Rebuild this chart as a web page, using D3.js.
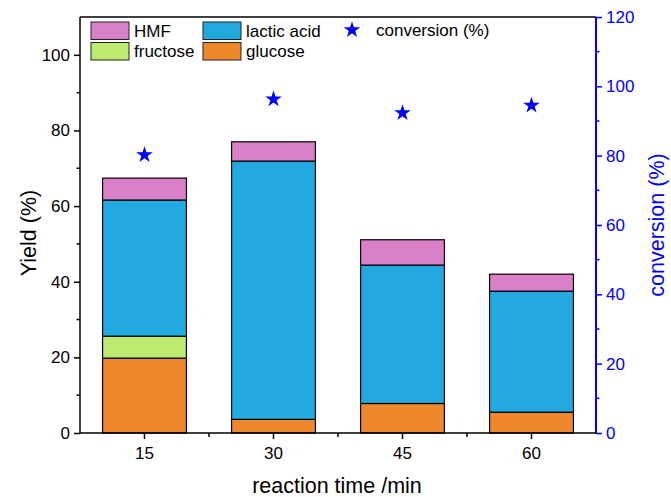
<!DOCTYPE html>
<html>
<head>
<meta charset="utf-8">
<script src="https://cdn.jsdelivr.net/npm/d3@7"></script>
<style>
  body { margin: 0; background: #fff; }
  svg { display: block; font-family: "Liberation Sans", Arial, sans-serif; }
</style>
</head>
<body>
<svg id="chart" width="671" height="497"></svg>
<script>
const categories = ["15", "30", "45", "60"];
const glucose    = [19.8, 3.6, 7.8, 5.5];
const fructose   = [5.8, 0, 0, 0];
const lacticAcid = [36.0, 68.3, 36.6, 32.0];
const hmf        = [5.8, 5.1, 6.7, 4.5];
const conversion = [80.2, 96.3, 92.3, 94.5];
const yieldTicks = [0, 20, 40, 60, 80, 100];
const convTicks  = [0, 20, 40, 60, 80, 100, 120];

const seriesKeys = ["glucose", "fructose", "lactic", "hmf"];
const colors = { glucose: "#EF882D", fructose: "#BCEB6F", lactic: "#22A9E0", hmf: "#DA80C8" };
const rows = categories.map((c, i) => ({
  cat: c, glucose: glucose[i], fructose: fructose[i], lactic: lacticAcid[i], hmf: hmf[i]
}));

const svg = d3.select("#chart");
const L = 80, R = 596, T = 17, B = 433;
const FONT = "Liberation Sans, Arial, sans-serif";

const x = d3.scaleBand().domain(categories).range([L, R]).paddingInner(0.35).paddingOuter(0.175);
const y = d3.scaleLinear().domain([0, 110]).range([B, T]);
const y2 = d3.scaleLinear().domain([0, 120]).range([B, T]);

// bars
const stacked = d3.stack().keys(seriesKeys)(rows);
svg.append("g").selectAll("g").data(stacked).join("g")
  .attr("fill", d => colors[d.key])
  .selectAll("rect").data(d => d.filter(p => p[1] - p[0] > 0)).join("rect")
  .attr("x", d => x(d.data.cat))
  .attr("width", x.bandwidth())
  .attr("y", d => y(d[1]))
  .attr("height", d => y(d[0]) - y(d[1]))
  .attr("stroke", "#000").attr("stroke-width", 1.2);

// stars
const star = d3.symbol().type(d3.symbolStar).size(85);
svg.append("g").selectAll("path").data(conversion).join("path")
  .attr("d", star)
  .attr("transform", (d, i) => `translate(${x(categories[i]) + x.bandwidth() / 2},${y2(d)})`)
  .attr("fill", "#0000FF");

// frame top
svg.append("line").attr("x1", L).attr("x2", R).attr("y1", T).attr("y2", T)
  .attr("stroke", "#000").attr("stroke-width", 1.5);

// left axis
const yAx = d3.axisLeft(y).tickValues(yieldTicks).tickSize(6).tickPadding(4);
const gl = svg.append("g").attr("transform", `translate(${L},0)`).call(yAx);
gl.select(".domain").attr("d", `M0,${B}V${T}`).attr("stroke-width", 1.5);
gl.selectAll(".tick line").attr("stroke-width", 1.5);
gl.selectAll("text").attr("font-size", 17).attr("fill", "#000").attr("font-family", FONT);
gl.append("g").selectAll("line").data(d3.range(10, 110, 20)).join("line")
  .attr("x1", 0).attr("x2", -3.5).attr("y1", d => y(d)).attr("y2", d => y(d))
  .attr("stroke", "#000").attr("stroke-width", 1.5);

// right axis
const y2Ax = d3.axisRight(y2).tickValues(convTicks).tickSize(6).tickPadding(4);
const gr = svg.append("g").attr("transform", `translate(${R},0)`).call(y2Ax);
gr.select(".domain").attr("d", `M0,${B}V${T}`).attr("stroke", "#0000FF").attr("stroke-width", 2);
gr.selectAll(".tick line").attr("stroke", "#0000FF").attr("stroke-width", 1.5);
gr.selectAll("text").attr("font-size", 17).attr("fill", "#0000FF").attr("font-family", FONT);
gr.append("g").selectAll("line").data(d3.range(10, 120, 20)).join("line")
  .attr("x1", 0).attr("x2", 3.5).attr("y1", d => y2(d)).attr("y2", d => y2(d))
  .attr("stroke", "#0000FF").attr("stroke-width", 1.5);

// bottom axis
const xAx = d3.axisBottom(x).tickSize(6).tickPadding(8);
const gb = svg.append("g").attr("transform", `translate(0,${B})`).call(xAx);
gb.select(".domain").attr("d", `M${L},0H${R}`).attr("stroke-width", 1.5);
gb.selectAll(".tick line").attr("stroke-width", 1.5);
gb.selectAll("text").attr("font-size", 17).attr("fill", "#000").attr("font-family", FONT);
const centers = categories.map(c => x(c) + x.bandwidth() / 2);
const minors = centers.slice(1).map((c, i) => (c + centers[i]) / 2);
gb.append("g").selectAll("line").data(minors).join("line")
  .attr("x1", d => d).attr("x2", d => d).attr("y1", 0).attr("y2", 4)
  .attr("stroke", "#000").attr("stroke-width", 1.5);

// axis titles
svg.append("text").attr("x", 337).attr("y", 493).attr("text-anchor", "middle")
  .attr("font-size", 21.5).attr("fill", "#000").text("reaction time /min");
svg.append("text").attr("transform", `translate(36,${(T + B) / 2 + 8}) rotate(-90)`)
  .attr("text-anchor", "middle").attr("font-size", 21.5).attr("fill", "#000").text("Yield (%)");
svg.append("text").attr("transform", `translate(664,${(T + B) / 2}) rotate(-90)`)
  .attr("text-anchor", "middle").attr("font-size", 21.5).attr("fill", "#0000FF").text("conversion (%)");

// legend
const legendItems = [
  { label: "HMF", key: "hmf", col: 0, row: 0 },
  { label: "fructose", key: "fructose", col: 0, row: 1 },
  { label: "lactic acid", key: "lactic", col: 1, row: 0 },
  { label: "glucose", key: "glucose", col: 1, row: 1 }
];
const colX = [91, 203], rowY = [22, 42.5];
const lg = svg.append("g");
legendItems.forEach(it => {
  lg.append("rect").attr("x", colX[it.col]).attr("y", rowY[it.row]).attr("width", 38).attr("height", 17.5)
    .attr("fill", colors[it.key]).attr("stroke", "#222").attr("stroke-width", 1);
  lg.append("text").attr("x", colX[it.col] + 43).attr("y", rowY[it.row] + 14.5)
    .attr("font-size", 17).attr("fill", "#000").text(it.label);
});
lg.append("path").attr("d", star).attr("transform", "translate(352,30)").attr("fill", "#0000FF");
lg.append("text").attr("x", 376).attr("y", 36).attr("font-size", 17).attr("fill", "#000").text("conversion (%)");
</script>
</body>
</html>
